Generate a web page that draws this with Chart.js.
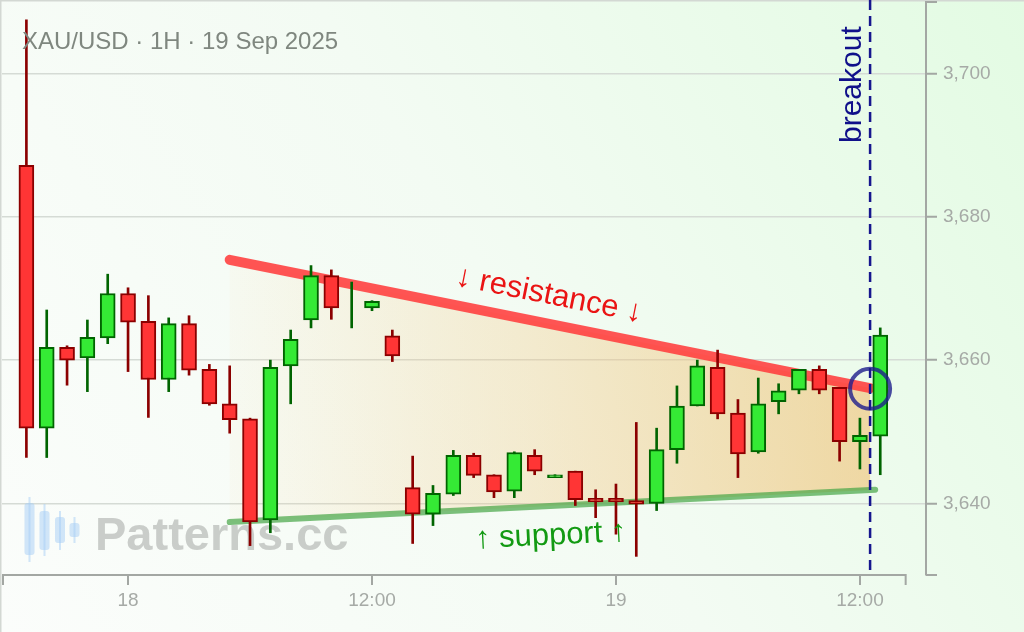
<!DOCTYPE html>
<html>
<head>
<meta charset="utf-8">
<script src="https://cdn.jsdelivr.net/npm/chart.js@4.4.1/dist/chart.umd.min.js"></script>
<style>
  html, body { margin: 0; padding: 0; background: #fff; }
  canvas { display: block; }
</style>
</head>
<body>
<canvas id="chart" width="1024" height="632"></canvas>
<script>
// hourly candles, "day hh:mm" (Sep 2025)
const times = [
    '17 19:00', '17 20:00', '17 21:00', '17 22:00', '17 23:00',
    '18 00:00', '18 01:00', '18 02:00', '18 03:00', '18 04:00', '18 05:00',
    '18 06:00', '18 07:00', '18 08:00', '18 09:00', '18 10:00', '18 11:00',
    '18 12:00', '18 13:00', '18 14:00', '18 15:00', '18 16:00', '18 17:00',
    '18 18:00', '18 19:00', '18 20:00', '18 21:00', '18 22:00', '18 23:00',
    '19 00:00', '19 01:00', '19 02:00', '19 03:00', '19 04:00', '19 05:00',
    '19 06:00', '19 07:00', '19 08:00', '19 09:00', '19 10:00', '19 11:00',
    '19 12:00', '19 13:00'
];
const opens = [
    3687.2, 3650.5, 3661.8, 3660.3, 3663.1, 3669.3, 3665.4, 3657.3, 3665.1, 3658.7,
    3653.9, 3651.8, 3637.7, 3659.2, 3665.6, 3671.8, 3668.5, 3667.3, 3663.4, 3642.2,
    3638.5, 3641.3, 3646.7, 3644.0, 3641.7, 3646.7, 3643.6, 3644.5, 3640.7, 3640.7,
    3640.4, 3640.0, 3647.5, 3653.6, 3659.0, 3652.6, 3647.2, 3654.2, 3655.8, 3658.7,
    3656.2, 3648.6, 3649.4
];
const highs = [
    3707.5, 3667.0, 3662.0, 3665.6, 3672.0, 3670.1, 3669.0, 3665.9, 3666.2, 3659.4,
    3659.2, 3651.9, 3660.0, 3664.2, 3673.2, 3672.6, 3670.9, 3668.3, 3664.2, 3646.6,
    3642.5, 3647.4, 3647.0, 3644.0, 3647.2, 3647.5, 3644.0, 3644.5, 3641.9, 3642.7,
    3651.3, 3650.5, 3656.4, 3660.0, 3661.4, 3654.5, 3657.5, 3656.7, 3658.7, 3659.2,
    3656.2, 3651.9, 3664.5
];
const lows = [
    3646.4, 3646.4, 3656.5, 3655.6, 3662.3, 3658.4, 3652.0, 3655.6, 3657.9, 3653.7,
    3649.8, 3634.1, 3635.9, 3653.9, 3664.5, 3665.7, 3664.5, 3666.9, 3659.8, 3634.4,
    3636.9, 3641.1, 3643.6, 3640.8, 3640.8, 3644.0, 3643.6, 3639.7, 3638.0, 3635.7,
    3632.6, 3639.0, 3645.6, 3653.6, 3651.8, 3643.6, 3647.0, 3652.5, 3655.3, 3655.3,
    3645.9, 3644.8, 3644.0
];
const closes = [
    3650.5, 3661.8, 3660.0, 3663.2, 3669.3, 3665.3, 3657.3, 3665.1, 3658.6, 3653.9,
    3651.7, 3637.4, 3659.0, 3662.9, 3671.8, 3667.3, 3668.5, 3668.2, 3660.6, 3638.5,
    3641.4, 3646.7, 3643.9, 3641.6, 3647.1, 3644.5, 3644.0, 3640.5, 3640.2, 3640.2,
    3639.9, 3647.5, 3653.6, 3659.2, 3652.5, 3646.9, 3653.9, 3655.7, 3658.7, 3655.8,
    3648.6, 3649.5, 3663.5
];

const tickHours = [0, 12, 24, 36];
const tickLabels = ['18', '12:00', '19', '12:00'];
const yTicks = [3640, 3660, 3680, 3700];

const resistance = [['18 05:00', 3674.0], ['19 12:30', 3656.1]];
const support = [['18 05:00', 3637.4], ['19 12:45', 3641.9]];
const breakout = ['19 12:30', 3656.0];

const FONT = '"Liberation Sans", Arial, sans-serif';
const AXIS_GRAY = '#a3a7a3';

// hours since 18 Sep 00:00
function toHours(t) {
    const day = +t.slice(0, 2);
    const [hh, mm] = t.slice(3).split(':').map(Number);
    return (day - 18) * 24 + hh + mm / 60;
}

const hours = times.map(toHours);
const isUp = i => closes[i] >= opens[i];

const wickData = hours.map((h, i) => ({ x: h, y: [lows[i], highs[i]] }));
const bodyData = hours.map((h, i) => ({ x: h, y: [opens[i], closes[i]] }));
const resData = resistance.map(p => ({ x: toHours(p[0]), y: p[1] }));
const supData = support.map(p => ({ x: toHours(p[0]), y: p[1] }));

// no label overhang padding, the axes keep fixed sizes
function fixBox(size) {
    return s => {
        if (s.isHorizontal()) s.height = size; else s.width = size;
        s.paddingTop = s.paddingBottom = s.paddingLeft = s.paddingRight = 0;
    };
}

const decor = {
    id: 'decor',
    beforeDraw(chart) {
        const { ctx, width, height } = chart;
        ctx.save();
        const bg = ctx.createLinearGradient(0, height, width, 0);
        bg.addColorStop(0, '#fbfdfb');
        bg.addColorStop(0.5, '#f3fbf3');
        bg.addColorStop(1, '#e3fbe3');
        ctx.fillStyle = bg;
        ctx.fillRect(0, 0, width, height);
        ctx.strokeStyle = '#d3d8d3';
        ctx.lineWidth = 1.5;
        ctx.beginPath();
        ctx.moveTo(0.75, height);
        ctx.lineTo(0.75, 0.75);
        ctx.lineTo(width, 0.75);
        ctx.stroke();
        ctx.restore();
    },
    beforeDatasetsDraw(chart) {
        const { ctx, scales: { x, y } } = chart;
        ctx.save();

        // watermark
        ctx.fillStyle = 'rgba(165, 205, 245, 0.5)';
        const icon = [[29.5, 497, 503, 555, 562], [44.5, 504, 511, 550, 556], [60, 511, 517, 543, 550], [74.5, 517, 523, 537, 543]];
        icon.forEach(([cx, wt, bt, bb, wb]) => {
            ctx.fillRect(cx - 1, wt, 2, wb - wt);
            ctx.beginPath();
            ctx.roundRect(cx - 5, bt, 10, bb - bt, 3);
            ctx.fill();
        });
        ctx.fillStyle = 'rgba(170, 174, 170, 0.6)';
        ctx.font = 'bold 47px ' + FONT;
        ctx.textBaseline = 'alphabetic';
        ctx.fillText('Patterns.cc', 95, 550);

        // triangle fill
        const x0 = x.getPixelForValue(resData[0].x);
        const x1 = x.getPixelForValue(resData[1].x);
        const supAt = h => supData[0].y + (supData[1].y - supData[0].y) * (h - supData[0].x) / (supData[1].x - supData[0].x);
        const g = ctx.createLinearGradient(x0, 0, x1, 0);
        g.addColorStop(0, 'rgba(245, 200, 130, 0.05)');
        g.addColorStop(1, 'rgba(240, 190, 110, 0.58)');
        ctx.fillStyle = g;
        ctx.beginPath();
        ctx.moveTo(x0, y.getPixelForValue(resData[0].y));
        ctx.lineTo(x1, y.getPixelForValue(resData[1].y));
        ctx.lineTo(x1, y.getPixelForValue(supAt(resData[1].x)));
        ctx.lineTo(x0, y.getPixelForValue(supAt(resData[0].x)));
        ctx.closePath();
        ctx.fill();
        ctx.restore();
    },
    afterDatasetsDraw(chart) {
        const { ctx, chartArea, scales: { x, y } } = chart;
        ctx.save();

        // breakout marker
        const bx = x.getPixelForValue(toHours(breakout[0]));
        ctx.strokeStyle = '#16168e';
        ctx.lineWidth = 2.5;
        ctx.setLineDash([10, 6]);
        ctx.beginPath();
        ctx.moveTo(bx, chartArea.top - 2);
        ctx.lineTo(bx, chartArea.bottom - 5);
        ctx.stroke();
        ctx.setLineDash([]);

        ctx.strokeStyle = 'rgba(30, 30, 140, 0.8)';
        ctx.lineWidth = 4;
        ctx.beginPath();
        ctx.arc(bx, y.getPixelForValue(breakout[1]), 20, 0, Math.PI * 2);
        ctx.stroke();

        ctx.fillStyle = '#10108a';
        ctx.font = '30px ' + FONT;
        ctx.textAlign = 'left';
        ctx.textBaseline = 'alphabetic';
        ctx.save();
        ctx.translate(bx - 9, chartArea.top + 141);
        ctx.rotate(-Math.PI / 2);
        ctx.fillText('breakout', 0, 0);
        ctx.restore();

        // line labels
        const label = (pts, t, off, text, color) => {
            const ax = x.getPixelForValue(pts[0].x), ay = y.getPixelForValue(pts[0].y);
            const bx2 = x.getPixelForValue(pts[1].x), by = y.getPixelForValue(pts[1].y);
            const ang = Math.atan2(by - ay, bx2 - ax);
            const px = ax + (bx2 - ax) * t, py = ay + (by - ay) * t;
            ctx.save();
            ctx.translate(px + Math.sin(ang) * off, py - Math.cos(ang) * off);
            ctx.rotate(ang);
            ctx.fillStyle = color;
            ctx.font = '31px ' + FONT;
            ctx.textAlign = 'center';
            ctx.textBaseline = 'middle';
            ctx.fillText(text, 0, 0);
            ctx.restore();
        };
        label(resData, 0.49, 28, '\u2193 resistance \u2193', '#ea1414');
        label(supData, 0.495, -30, '\u2191 support \u2191', '#139a13');

        // title
        ctx.fillStyle = '#7f877f';
        ctx.font = '24px ' + FONT;
        ctx.textAlign = 'left';
        ctx.fillText('XAU/USD \u00b7 1H \u00b7 19 Sep 2025', 22, 49);
        ctx.restore();
    },
    afterDraw(chart) {
        const { ctx, chartArea, scales: { x } } = chart;
        ctx.save();
        ctx.strokeStyle = AXIS_GRAY;
        ctx.lineWidth = 2;
        const xr = x.getPixelForValue(38.25);
        ctx.beginPath();
        // bottom spine with end ticks
        ctx.moveTo(chartArea.left + 1, chartArea.bottom + 10);
        ctx.lineTo(chartArea.left + 1, chartArea.bottom);
        ctx.lineTo(xr, chartArea.bottom);
        ctx.lineTo(xr, chartArea.bottom + 10);
        // right spine end ticks
        ctx.moveTo(chartArea.right, chartArea.top);
        ctx.lineTo(chartArea.right + 11, chartArea.top);
        ctx.moveTo(chartArea.right, chartArea.bottom);
        ctx.lineTo(chartArea.right + 11, chartArea.bottom);
        ctx.stroke();
        ctx.restore();
    }
};

Chart.defaults.font.family = FONT;

new Chart(document.getElementById('chart'), {
    type: 'bar',
    data: {
        datasets: [
            {
                type: 'bar',
                data: bodyData,
                grouped: false,
                barThickness: 15,
                borderWidth: 2,
                borderSkipped: false,
                backgroundColor: c => isUp(c.dataIndex) ? '#35ea35' : '#ff3535',
                borderColor: c => isUp(c.dataIndex) ? '#006400' : '#8b0000',
                order: 1
            },
            {
                type: 'bar',
                data: wickData,
                grouped: false,
                barThickness: 2,
                borderWidth: 0,
                backgroundColor: c => isUp(c.dataIndex) ? '#006400' : '#8b0000',
                order: 2
            },
            {
                type: 'line',
                data: resData,
                borderColor: 'rgba(255, 60, 60, 0.88)',
                borderWidth: 10,
                borderCapStyle: 'round',
                pointRadius: 0,
                fill: false,
                order: 3
            },
            {
                type: 'line',
                data: supData,
                borderColor: 'rgba(70, 165, 70, 0.7)',
                borderWidth: 6,
                borderCapStyle: 'round',
                pointRadius: 0,
                fill: false,
                order: 3
            }
        ]
    },
    options: {
        responsive: false,
        animation: false,
        events: [],
        layout: { padding: { left: 2, top: 2, right: 0, bottom: 0 } },
        plugins: {
            legend: { display: false },
            tooltip: { enabled: false }
        },
        scales: {
            x: {
                type: 'linear',
                position: 'bottom',
                offset: false,
                min: -6.2,
                max: 39.25,
                afterBuildTicks: s => { s.ticks = tickHours.map(v => ({ value: v })); },
                afterFit: fixBox(57),
                ticks: {
                    callback: (v, i) => tickLabels[i],
                    color: '#a6aaa6',
                    font: { size: 19 },
                    padding: 4,
                    maxRotation: 0,
                    autoSkip: false
                },
                grid: {
                    offset: false,
                    drawOnChartArea: false,
                    tickLength: 10,
                    color: AXIS_GRAY,
                    lineWidth: 2
                },
                border: { display: false }
            },
            y: {
                type: 'linear',
                position: 'right',
                min: 3630,
                max: 3710,
                afterBuildTicks: s => { s.ticks = yTicks.map(v => ({ value: v })); },
                afterFit: fixBox(98),
                ticks: {
                    callback: v => v.toLocaleString('en-US'),
                    color: '#a6aaa6',
                    font: { size: 19 },
                    padding: 6
                },
                grid: {
                    color: '#d5dbd5',
                    lineWidth: 1.5,
                    tickColor: AXIS_GRAY,
                    tickWidth: 2,
                    tickLength: 11
                },
                border: { display: true, color: AXIS_GRAY, width: 2 }
            }
        }
    },
    plugins: [decor]
});
</script>
</body>
</html>
